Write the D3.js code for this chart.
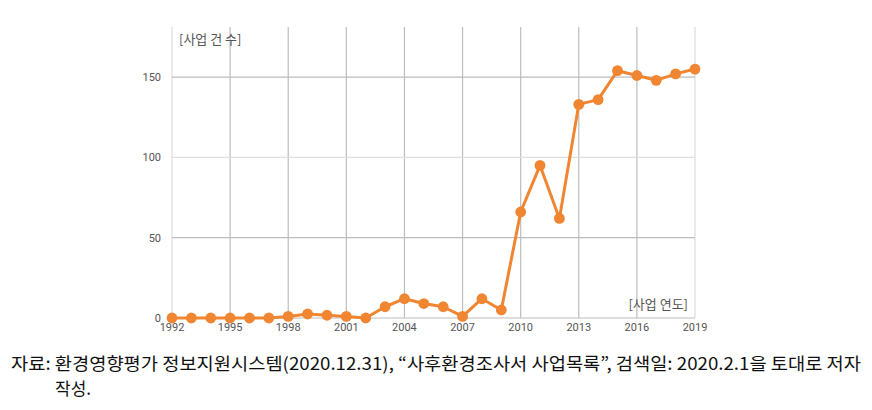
<!DOCTYPE html>
<html><head><meta charset="utf-8">
<script src="https://cdn.jsdelivr.net/npm/d3@7"></script>
<style>body{margin:0;background:#fff;}svg{display:block;}</style>
</head><body>
<svg id="c" width="872" height="410"></svg>
<script>
const years = [1992,1993,1994,1995,1996,1997,1998,1999,2000,2001,2002,2003,2004,2005,2006,2007,2008,2009,2010,2011,2012,2013,2014,2015,2016,2017,2018,2019];
const counts = [0,0,0,0,0,0,1,2.5,1.7,1,0,7,12,9,7,1,12,5,66,95,62,133,136,154,151,148,152,155];
const xTicks = [1992,1995,1998,2001,2004,2007,2010,2013,2016,2019];
const yTicks = [0,50,100,150];
const yLabel = "[사업 건 수]";
const xLabel = "[사업 연도]";
const caption1 = "자료: 환경영향평가 정보지원시스템(2020.12.31), “사후환경조사서 사업목록”, 검색일: 2020.2.1을 토대로 저자";
const caption2 = "작성.";

const svg = d3.select("#c");
const L=172, R=695, T=27, B=318;
const x = d3.scaleLinear().domain([1992,2019]).range([L,R]);
const y = d3.scaleLinear().domain([0,50]).range([B,B-80.3]);

const g = svg.append("g");
g.selectAll(".vg").data(xTicks).join("line")
  .attr("x1",d=>x(d)).attr("x2",d=>x(d)).attr("y1",T).attr("y2",B)
  .attr("stroke",d=>(d===1992||d===2019)?"#dcdcdc":"#bdbdbd").attr("stroke-width",1.2);
g.selectAll(".hg").data(yTicks).join("line")
  .attr("x1",L).attr("x2",R).attr("y1",d=>y(d)).attr("y2",d=>y(d))
  .attr("stroke",d=>d===100?"#e0e0e0":"#bdbdbd").attr("stroke-width",1.2);

g.selectAll(".yt").data(yTicks).join("text")
  .attr("x",161).attr("y",d=>y(d)).attr("dy","0.35em").attr("text-anchor","end")
  .attr("font-family","Roboto, Arial, sans-serif").attr("font-size",11).attr("fill","#555")
  .text(d=>d);
g.selectAll(".xt").data(xTicks).join("text")
  .attr("x",d=>x(d)).attr("y",331).attr("text-anchor","middle")
  .attr("font-family","Roboto, Arial, sans-serif").attr("font-size",11).attr("fill","#555")
  .text(d=>d);

g.append("text").attr("x",179).attr("y",44).attr("font-family","'Noto Sans CJK KR', sans-serif")
  .attr("font-size",13).attr("fill","#555").text(yLabel);
g.append("text").attr("x",688).attr("y",309).attr("text-anchor","end").attr("font-family","'Noto Sans CJK KR', sans-serif")
  .attr("font-size",13).attr("fill","#555").text(xLabel);

const line = d3.line().x((d,i)=>x(years[i])).y(d=>y(d));
g.append("path").datum(counts).attr("d",line).attr("fill","none")
  .attr("stroke","#f08532").attr("stroke-width",3).attr("stroke-linejoin","round");
g.selectAll(".pt").data(counts).join("circle")
  .attr("cx",(d,i)=>x(years[i])).attr("cy",d=>y(d)).attr("r",5.4).attr("fill","#f08532");

svg.append("text").attr("x",11).attr("y",370).attr("font-family","'Noto Sans CJK KR', serif")
  .attr("font-size",17.5).attr("fill","#111").attr("textLength",850).attr("lengthAdjust","spacingAndGlyphs")
  .text(caption1);
svg.append("text").attr("x",55).attr("y",395).attr("font-family","'Noto Sans CJK KR', serif")
  .attr("font-size",17.5).attr("fill","#111").attr("textLength",36).attr("lengthAdjust","spacingAndGlyphs").text(caption2);
</script>
</body></html>
